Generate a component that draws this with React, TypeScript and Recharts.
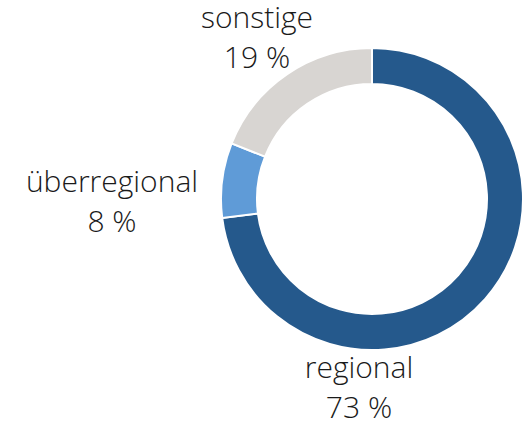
import React from "react";
import { PieChart, Pie, Cell } from "recharts";

const categories = ["regional", "überregional", "sonstige"];
const shares = [73, 8, 19];
const colors = ["#25598c", "#5f9bd7", "#d8d5d2"];

const data = categories.map((name, i) => ({ name, value: shares[i] }));

// label anchor offsets relative to pie centre (dx, dy of first baseline)
const labelOffsets: Record<string, [number, number]> = {
  regional: [-13, 179],
  "überregional": [-260, -7],
  sonstige: [-115, -171],
};

const FONT = "'Open Sans', sans-serif";

const renderLabel = (props: any) => {
  const { cx, cy, name, value } = props;
  const off = labelOffsets[name] || [0, 0];
  const x = cx + off[0];
  const y = cy + off[1];
  return (
    <text
      x={x}
      y={y}
      textAnchor="middle"
      fill="#1a1a1a"
      fontFamily={FONT}
      fontSize={30}
      fontWeight={300}
    >
      <tspan x={x} y={y}>{name}</tspan>
      <tspan x={x} y={y + 39.5}>{`${value} %`}</tspan>
    </text>
  );
};

export default function App() {
  return (
    <div style={{ position: "absolute", left: 0, top: 0, background: "#fff" }}>
      <PieChart width={531} height={423} margin={{ top: 0, right: 0, bottom: 0, left: 0 }}>
        <Pie
          data={data}
          dataKey="value"
          nameKey="name"
          cx={372}
          cy={199}
          innerRadius={115}
          outerRadius={151}
          startAngle={90}
          endAngle={-270}
          stroke="#ffffff"
          strokeWidth={2}
          label={renderLabel}
          labelLine={false}
          isAnimationActive={false}
        >
          {data.map((d, i) => (
            <Cell key={d.name} fill={colors[i]} />
          ))}
        </Pie>
      </PieChart>
    </div>
  );
}
